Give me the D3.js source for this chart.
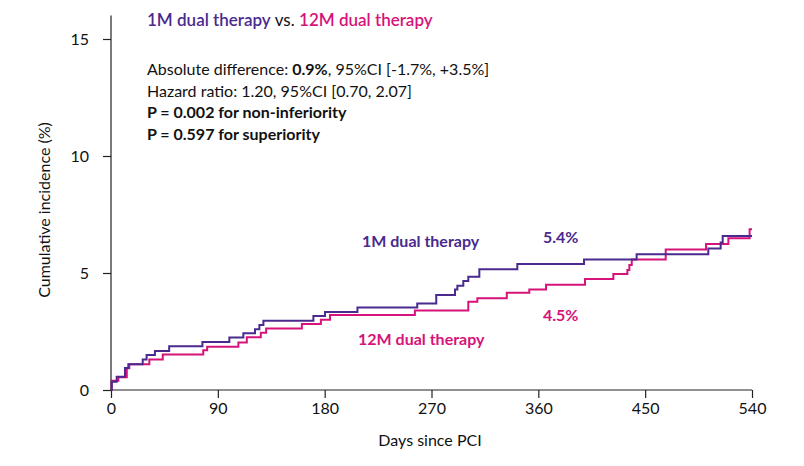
<!DOCTYPE html>
<html><head><meta charset="utf-8">
<script src="https://cdn.jsdelivr.net/npm/d3@7"></script>
<style>body{margin:0;background:#fff}text{font-family:Lato,"Noto Sans",sans-serif}</style>
</head><body><svg id="c" width="804" height="466"></svg>
<script>
const xTicks=[0,90,180,270,360,450,540];
const yTicks=[0,5,10,15];
const oneMDays=[0,0.6,4.8,11.8,14.6,26.7,30,37,49,77,99.7,111.5,121.3,125,128.4,170.5,180.3,207.6,258,274,289.8,291.8,296.8,301,310.3,342.3,398.5,442.8,503.2,513.6,515.3,540];
const oneMVals=[0,0.35,0.57,0.94,1.1,1.3,1.5,1.67,1.87,2.05,2.24,2.42,2.6,2.78,2.96,3.16,3.33,3.53,3.7,4.06,4.3,4.46,4.66,4.84,5.16,5.38,5.58,5.8,6.05,6.3,6.58,6.58];
const twelveMDays=[0,0.6,6.2,13.3,15.4,32.3,43.6,77.7,81,107.3,114.4,126.2,130.7,160.8,176.8,184.5,256,301,308.6,333.4,352.4,366.5,399.3,423.2,435,436.7,438.7,467.3,501.3,520.1,538,540];
const twelveMVals=[0,0.4,0.54,0.93,1.1,1.3,1.52,1.7,1.85,2.03,2.25,2.45,2.63,2.82,3.0,3.2,3.4,3.77,3.92,4.16,4.3,4.5,4.74,4.96,5.13,5.34,5.58,6.0,6.24,6.48,6.87,6.87];
const purple="#4a2a8e", magenta="#d6137a";
const svg=d3.select("#c");
const x=d3.scaleLinear().domain([0,540]).range([111,752]);
const y=d3.scaleLinear().domain([0,16]).range([390,15.6]);
const gx=svg.append("g").attr("transform","translate(0,390)").call(d3.axisBottom(x).tickValues(xTicks).tickSize(8).tickPadding(5));
const gy=svg.append("g").attr("transform","translate(111,0)").call(d3.axisLeft(y).tickValues(yTicks).tickSize(8).tickPadding(14));
[gx,gy].forEach(g=>{g.selectAll("path,line").attr("stroke","#222").attr("stroke-width",1.2);g.selectAll("text").attr("font-size",16).attr("fill","#111").attr("font-family","Lato,sans-serif");});
gy.select(".domain").attr("d","M0,15.6V390");
gx.select(".domain").attr("d","M111,0H752");
const line=d3.line().x(d=>x(d[0])).y(d=>y(d[1])).curve(d3.curveStepAfter);
svg.append("path").datum(twelveMDays.map((d,i)=>[d,twelveMVals[i]])).attr("d",line).attr("fill","none").attr("stroke",magenta).attr("stroke-width",2);
svg.append("path").datum(oneMDays.map((d,i)=>[d,oneMVals[i]])).attr("d",line).attr("fill","none").attr("stroke",purple).attr("stroke-width",2);
svg.append("text").attr("x",430).attr("y",446).attr("text-anchor","middle").attr("font-size",16).attr("fill","#111").text("Days since PCI");
svg.append("text").attr("transform","translate(50,210) rotate(-90)").attr("text-anchor","middle").attr("font-size",16).attr("fill","#111").text("Cumulative incidence (%)");
const t=svg.append("text").attr("x",147).attr("y",26).attr("font-size",17).attr("fill","#111");
t.append("tspan").attr("fill",purple).attr("font-weight",600).text("1M dual therapy");
t.append("tspan").text(" vs. ");
t.append("tspan").attr("fill",magenta).attr("font-weight",600).text("12M dual therapy");
const a=svg.append("text").attr("x",147).attr("y",75).attr("font-size",16).attr("fill","#111");
a.append("tspan").text("Absolute difference: ");
a.append("tspan").attr("font-weight",700).text("0.9%");
a.append("tspan").text(", 95%CI [-1.7%, +3.5%]");
svg.append("text").attr("x",147).attr("y",97).attr("font-size",16).attr("fill","#111").text("Hazard ratio: 1.20, 95%CI [0.70, 2.07]");
svg.append("text").attr("x",147).attr("y",118).attr("font-size",16).attr("font-weight",700).attr("fill","#111").text("P = 0.002 for non-inferiority");
svg.append("text").attr("x",147).attr("y",140).attr("font-size",16).attr("font-weight",700).attr("fill","#111").text("P = 0.597 for superiority");
svg.append("text").attr("x",362).attr("y",247).attr("font-size",16).attr("font-weight",700).attr("fill",purple).text("1M dual therapy");
svg.append("text").attr("x",543).attr("y",243).attr("font-size",16).attr("font-weight",700).attr("fill",purple).text("5.4%");
svg.append("text").attr("x",358).attr("y",345).attr("font-size",16).attr("font-weight",700).attr("fill",magenta).text("12M dual therapy");
svg.append("text").attr("x",543).attr("y",321).attr("font-size",16).attr("font-weight",700).attr("fill",magenta).text("4.5%");
</script></body></html>
